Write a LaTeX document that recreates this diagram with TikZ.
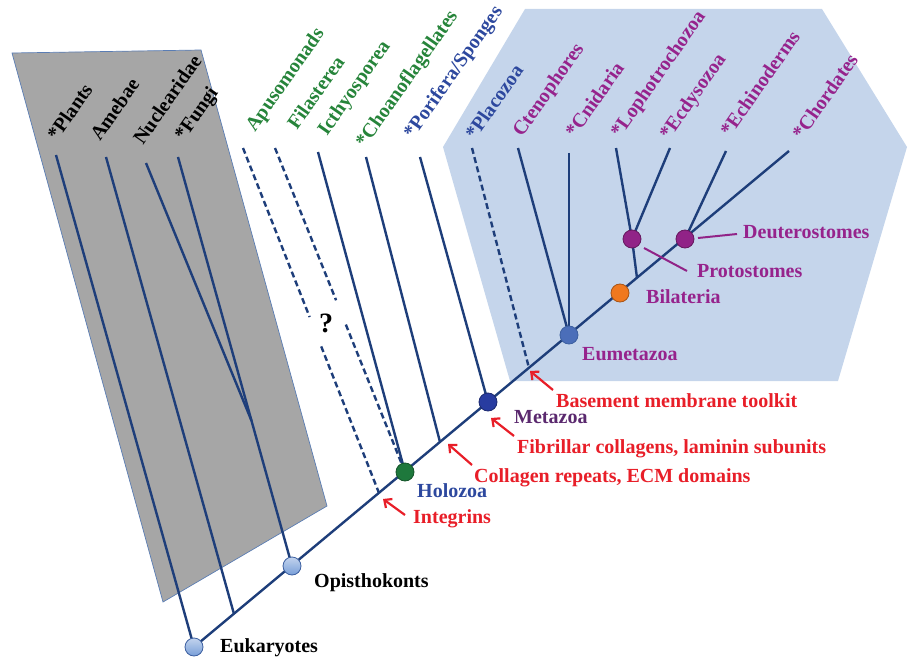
\documentclass[tikz,border=0pt]{standalone}
\usepackage{fontspec}
\setmainfont{Liberation Serif}
\usetikzlibrary{arrows.meta,calc,backgrounds}
\definecolor{branch}{RGB}{30,62,122}
\definecolor{grayp}{RGB}{166,166,166}
\definecolor{grayedge}{RGB}{90,125,180}
\definecolor{bluep}{RGB}{197,213,235}
\definecolor{txgreen}{RGB}{38,132,58}
\definecolor{txblue}{RGB}{45,72,158}
\definecolor{txpurple}{RGB}{150,35,140}
\definecolor{txdpurple}{RGB}{90,40,110}
\definecolor{txred}{RGB}{232,30,40}
\definecolor{nlight}{RGB}{120,158,216}
\definecolor{nedge}{RGB}{60,95,160}
\definecolor{ngreen}{RGB}{30,120,60}
\definecolor{nmeta}{RGB}{40,60,160}
\definecolor{neum}{RGB}{75,110,185}
\definecolor{norange}{RGB}{240,120,30}
\definecolor{npurple}{RGB}{145,35,135}
\begin{document}
\begin{tikzpicture}[x=1pt,y=-1pt,
  txt/.style={font=\fontsize{20}{22}\selectfont\bfseries, inner sep=0pt, anchor=base west},
  lab/.style={txt, rotate=55},
  br/.style={draw=branch, line width=2.4pt},
  brdash/.style={br, dash pattern=on 6pt off 3.5pt},
  dot/.style={circle, minimum size=18pt, inner sep=0pt, draw=nedge, line width=0.8pt},
  lightdot/.style={dot, top color=nlight!45!white, bottom color=nlight},
  redarrow/.style={draw=txred, line width=2.2pt, -{Straight Barb[length=6pt,width=11pt]}},
  purpleline/.style={draw=npurple, line width=2pt}
]
\useasboundingbox (0,0) rectangle (911,658);

% tips of branches
\coordinate (tPla) at (56,155);
\coordinate (tAme) at (106,157);
\coordinate (tNuc) at (146,163);
\coordinate (tFun) at (178,157);
\coordinate (tApu) at (243,148);
\coordinate (tFil) at (275,148);
\coordinate (tIct) at (318,152);
\coordinate (tCho) at (366,157);
\coordinate (tPor) at (420,157);
\coordinate (tPlc) at (472,148);
\coordinate (tCte) at (518,148);
\coordinate (tCni) at (569,153);
\coordinate (tLop) at (616,148);
\coordinate (tEcd) at (670,148);
\coordinate (tEch) at (726,151);
\coordinate (tChr) at (789,151);

% junctions on the backbone
\coordinate (jAme) at (234,614);
\coordinate (jApu) at (379,493);
\coordinate (jCho) at (440,442);
\coordinate (jPla) at (529,368);
\coordinate (jPro) at (637,278);

% internal nodes
\node[lightdot] (euk) at (194,647) {};
\node[lightdot] (opi) at (292,566) {};
\node[dot, fill=ngreen, draw=ngreen!70!black] (hol) at (405,472) {};
\node[dot, fill=nmeta, draw=nmeta!70!black] (met) at (488,402) {};
\node[dot, fill=neum] (eum) at (569,335) {};
\node[dot, fill=norange, draw=norange!70!black] (bil) at (620,293) {};
\node[dot, fill=npurple, draw=npurple!70!black] (pro) at (632,239) {};
\node[dot, fill=npurple, draw=npurple!70!black] (deu) at (685,239) {};

\coordinate (jNuc) at ($(tFun)!0.645!(opi.center)$);

\begin{scope}[on background layer]
  \fill[grayp] (12,53) -- (201,50) -- (327,506) -- (163,602) -- cycle;
  \draw[grayedge, line width=0.7pt] (12,53) -- (201,50) -- (327,506) -- (163,602) -- cycle;
  \fill[bluep] (443,147) -- (525,9) -- (822,9) -- (907,147) -- (838,381) -- (510,381) -- cycle;

  % backbone
  \draw[br] (euk.center) -- (tChr);
  % gray group
  \draw[br] (tPla) -- (euk.center);
  \draw[br] (tAme) -- (jAme);
  \draw[br] (tFun) -- (opi.center);
  \draw[br] (tNuc) -- (jNuc);
  % dashed uncertain lineages with gap for ?
  \draw[brdash] (tApu) -- ($(tApu)!0.49!(jApu)$);
  \draw[brdash] ($(tApu)!0.575!(jApu)$) -- (jApu);
  \draw[brdash] (tFil) -- ($(tFil)!0.47!(hol.center)$);
  \draw[brdash] ($(tFil)!0.545!(hol.center)$) -- (hol.center);
  % holozoa
  \draw[br] (tIct) -- (hol.center);
  \draw[br] (tCho) -- (jCho);
  \draw[br] (tPor) -- (met.center);
  \draw[brdash] (tPlc) -- (jPla);
  \draw[br] (tCte) -- (eum.center);
  \draw[br] (tCni) -- (eum.center);
  \draw[br] (tLop) -- (pro.center);
  \draw[br] (tEcd) -- (pro.center);
  \draw[br] (pro.center) -- (jPro);
  \draw[br] (tEch) -- (deu.center);
\end{scope}

% rotated tip labels
\node[lab] (lPla) at (57,142) {*Plants};
\node[lab] (lAme) at (100,142) {Amebae};
\node[lab] (lNuc) at (143,146) {Nuclearidae};
\node[lab] (lFun) at (184,142) {*Fungi};
\node[lab, text=txgreen] (lApu) at (255,133) {Apusomonads};
\node[lab, text=txgreen] (lFil) at (297,131) {Filasterea};
\node[lab, text=txgreen] (lIct) at (327,137) {Icthyosporea};
\node[lab, text=txgreen] (lCho) at (365,149) {*Choanoflagellates};
\node[lab, text=txblue] (lPor) at (413,140) {*Porifera/Sponges};
\node[lab, text=txblue] (lPlc) at (475,141) {*Placozoa};
\node[lab, text=txpurple] (lCte) at (522,138) {Ctenophores};
\node[lab, text=txpurple] (lCni) at (575,139) {*Cnidaria};
\node[lab, text=txpurple] (lLop) at (620,139) {*Lophotrochozoa};
\node[lab, text=txpurple] (lEcd) at (669,141) {*Ecdysozoa};
\node[lab, text=txpurple] (lEch) at (730,138) {*Echinoderms};
\node[lab, text=txpurple] (lChr) at (802,141) {*Chordates};

\node[txt, anchor=center, font=\fontsize{28}{30}\selectfont\bfseries] (qm) at (326,323) {?};

% node labels
\node[txt] (lEuk) at (220,652) {Eukaryotes};
\node[txt] (lOpi) at (314,587) {Opisthokonts};
\node[txt, text=txblue] (lHol) at (417,497) {Holozoa};
\node[txt, text=txdpurple] (lMet) at (514,423) {Metazoa};
\node[txt, text=txpurple] (lEum) at (582,360) {Eumetazoa};
\node[txt, text=txpurple] (lBil) at (646,303) {Bilateria};
\node[txt, text=txpurple] (lPro) at (697,277) {Protostomes};
\node[txt, text=txpurple] (lDeu) at (743,239) {Deuterostomes};

% innovations
\node[txt, text=txred] (lInt) at (413,523) {Integrins};
\node[txt, text=txred] (lCol) at (474,482) {Collagen repeats, ECM domains};
\node[txt, text=txred] (lFib) at (517,453) {Fibrillar collagens, laminin subunits};
\node[txt, text=txred] (lBas) at (556,407) {Basement membrane toolkit};

\coordinate (aIntT) at (405,515); \coordinate (aIntH) at (383,499);
\coordinate (aColT) at (472,465); \coordinate (aColH) at (448,444);
\coordinate (aFibT) at (514,436); \coordinate (aFibH) at (491,418);
\coordinate (aBasT) at (553,390); \coordinate (aBasH) at (530,371);
\draw[redarrow] (aIntT) -- (aIntH);
\draw[redarrow] (aColT) -- (aColH);
\draw[redarrow] (aFibT) -- (aFibH);
\draw[redarrow] (aBasT) -- (aBasH);

% label pointers
\coordinate (pProA) at (644,248); \coordinate (pProB) at (687,271);
\coordinate (pDeuA) at (698,238); \coordinate (pDeuB) at (737,234);
\draw[purpleline] (pProA) -- (pProB);
\draw[purpleline] (pDeuA) -- (pDeuB);
\end{tikzpicture}
\end{document}
